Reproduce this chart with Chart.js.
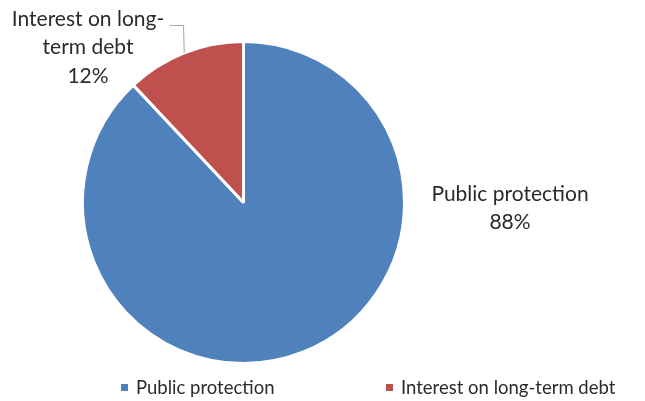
<!DOCTYPE html>
<html>
<head>
<meta charset="utf-8">
<script src="https://cdn.jsdelivr.net/npm/chart.js@4"></script>
<style>
  html, body { margin: 0; padding: 0; background: #fff; }
  #wrap { width: 645px; height: 401px; position: relative; }
</style>
</head>
<body>
<div id="wrap"><canvas id="c" width="645" height="401"></canvas></div>
<script>
const categories = ["Public protection", "Interest on long-term debt"];
const values = [88, 12];
const colors = ["#4F81BD", "#C0504D"];
const labelLines = [["Public protection"], ["Interest on long-", "term debt"]];

const FONT = "Lato, 'Liberation Sans', sans-serif";

const labelPlugin = {
  id: 'customLabels',
  afterDraw(chart) {
    const ctx = chart.ctx;
    const meta = chart.getDatasetMeta(0);
    const total = values.reduce((a, b) => a + b, 0);
    const anchors = [{x: 510, y: 194}, {x: 88, y: 19}];
    const lh = 28.5;
    ctx.save();
    ctx.fillStyle = '#2b2b2b';
    ctx.font = '21px ' + FONT;
    ctx.textAlign = 'center';
    ctx.textBaseline = 'middle';
    values.forEach((v, i) => {
      const lines = labelLines[i].concat([Math.round(v / total * 100) + '%']);
      const a = anchors[i];
      lines.forEach((t, j) => ctx.fillText(t, a.x, a.y + j * lh));
    });
    const arc = meta.data[1];
    const mid = (arc.startAngle + arc.endAngle) / 2;
    const px = arc.x + Math.cos(mid) * arc.outerRadius;
    const py = arc.y + Math.sin(mid) * arc.outerRadius;
    ctx.strokeStyle = '#A6A6A6';
    ctx.lineWidth = 1;
    ctx.beginPath();
    ctx.moveTo(170, 25.5);
    ctx.lineTo(183.5, 25.5);
    ctx.lineTo(px, py);
    ctx.stroke();
    ctx.font = '18.5px ' + FONT;
    ctx.textAlign = 'left';
    const legendItems = [{x: 121}, {x: 386}];
    legendItems.forEach((it, i) => {
      ctx.fillStyle = colors[i];
      ctx.fillRect(it.x, 384, 7, 7);
      ctx.fillStyle = '#2b2b2b';
      ctx.fillText(categories[i], it.x + 15, 388);
    });
    ctx.restore();
  }
};

new Chart(document.getElementById('c'), {
  type: 'pie',
  data: {
    labels: categories,
    datasets: [{
      data: values,
      backgroundColor: colors,
      borderColor: '#ffffff',
      borderWidth: 3
    }]
  },
  options: {
    responsive: false,
    animation: false,
    layout: { padding: { left: 81, right: 239, top: 40, bottom: 36 } },
    plugins: {
      legend: { display: false },
      tooltip: { enabled: false }
    }
  },
  plugins: [labelPlugin]
});
</script>
</body>
</html>
